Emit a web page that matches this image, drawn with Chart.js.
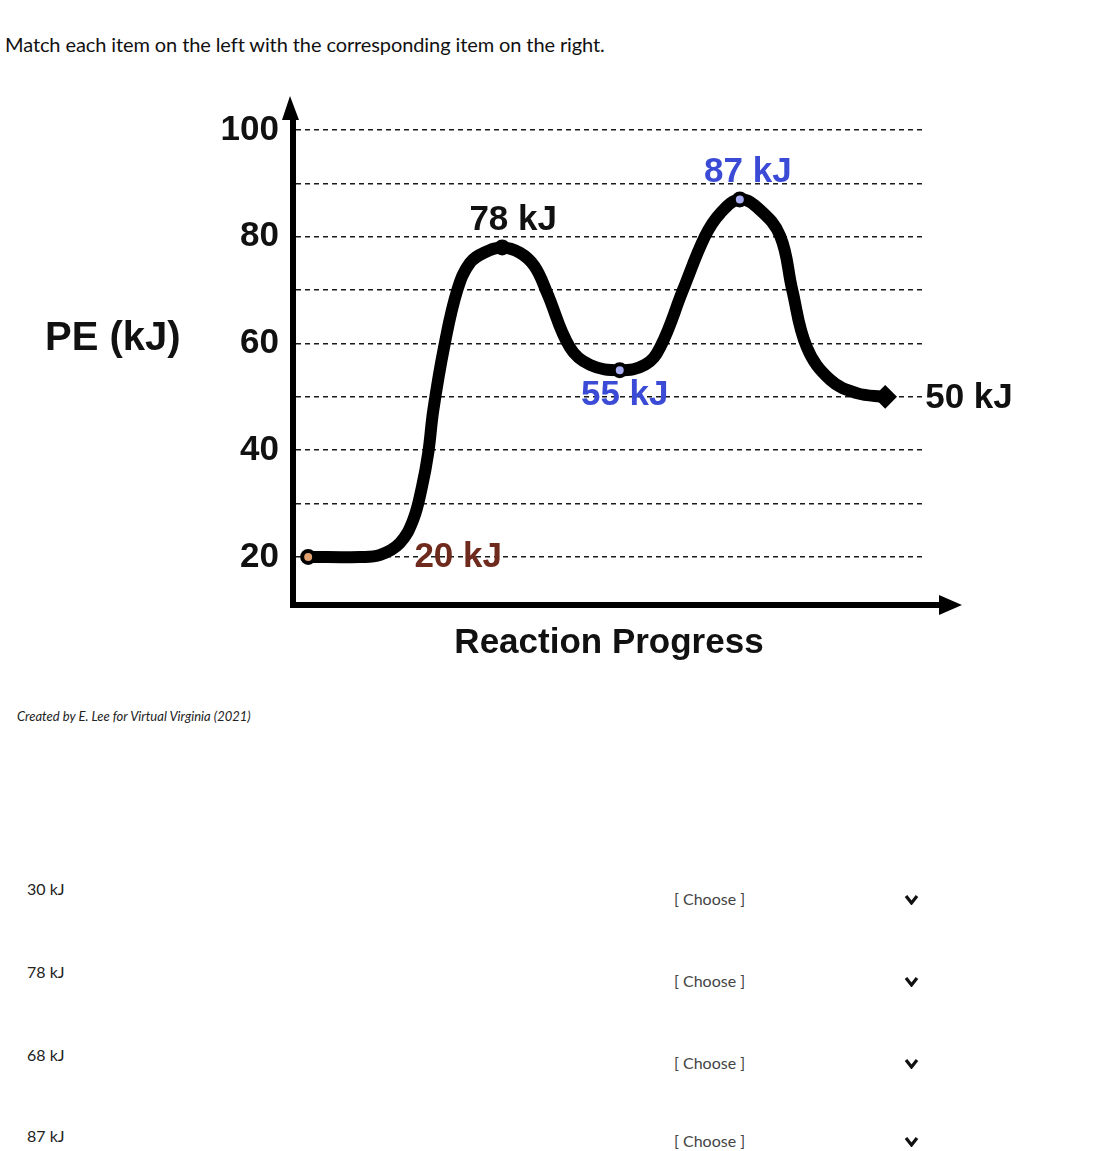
<!DOCTYPE html>
<html>
<head>
<meta charset="utf-8">
<script src="https://cdn.jsdelivr.net/npm/chart.js@4.4.1/dist/chart.umd.min.js"></script>
<style>
  html, body { margin: 0; padding: 0; background: #fff; }
  body { width: 1106px; height: 1151px; position: relative; overflow: hidden; font-family: Lato, "Open Sans", sans-serif; color: #111; }
  #chart { position: absolute; left: 0; top: 0; }
  .txt { position: absolute; white-space: nowrap; }
  #instr { left: 5px; top: 32px; font-size: 20px; letter-spacing: -0.1px; color: #111; }
  #credit { left: 17px; top: 708px; font-size: 13px; font-style: italic; color: #222; }
  .lbl { font-size: 16px; color: #222; }
  .choose { font-size: 16px; color: #444; }
  .chev { position: absolute; width: 15px; height: 11px; }
</style>
</head>
<body>
<div id="instr" class="txt">Match each item on the left with the corresponding item on the right.</div>
<canvas id="chart" width="1106" height="700"></canvas>
<div id="credit" class="txt">Created by E. Lee for Virtual Virginia (2021)</div>
<div id="quiz"></div>
<script>
// ---- data ----
const curveX = [2.4, 10.6, 13.8, 16.9, 19.0, 20.4, 21.4, 22.2, 23.9, 26.0, 28.0, 30.4, 33.1, 35.9, 38.2, 40.2, 43.8, 47.0, 51.7, 55.7, 58.1, 61.7, 65.2, 67.6, 70.7, 73.9, 77.1, 79.0, 81.3, 85.0, 89.2, 93.7];
const curveY = [20, 20, 20.4, 22.6, 26.9, 33.1, 39.5, 47.5, 59.3, 70, 75.1, 77.1, 78, 77.0, 74.5, 69.5, 59.3, 56.0, 55, 56.0, 59.3, 70, 80.1, 84.4, 87, 85.0, 80.1, 70, 59.3, 53.2, 50.7, 50];
const markerX = [2.4, 33.1, 51.7, 70.7, 93.7];
const markerY = [20, 78, 55, 87, 50];
const markerLabels = ["20 kJ", "78 kJ", "55 kJ", "87 kJ", "50 kJ"];
const yTickValues = [20, 30, 40, 50, 60, 70, 80, 90, 100];
const yTickLabels = ["20", "", "40", "", "60", "", "80", "", "100"];
const yAxisTitle = "PE (kJ)";
const xAxisTitle = "Reaction Progress";
const quizItems = ["30 kJ", "78 kJ", "68 kJ", "87 kJ"];
const chooseText = "[ Choose ]";

// ---- styles ----
const markerFill = ["#e0a070", "#000000", "#a9aef2", "#a9aef2", "#000000"];
const markerRadius = [6, 6, 6, 6, 9];
const markerStyle = ["circle", "circle", "circle", "circle", "rectRot"];
const labelColor = ["#6e2a1c", "#111111", "#3b4bd6", "#3b4bd6", "#111111"];
const labelDx = [150, 11, 5, 8, 40];
const labelDy = [0, -27, 25, -27, 1];
const labelAlign = ["center", "center", "center", "center", "left"];
const BOLD = "bold 35px 'Liberation Sans', Arial, sans-serif";

const decor = {
  id: 'decor',
  afterDraw(chart) {
    const ctx = chart.ctx;
    const xs = chart.scales.x, ys = chart.scales.y;
    const a = chart.chartArea;
    ctx.save();
    ctx.fillStyle = '#000';
    ctx.strokeStyle = '#000';
    ctx.lineWidth = 6;
    ctx.beginPath(); ctx.moveTo(a.left, a.bottom + 3); ctx.lineTo(a.left, a.top - 14); ctx.stroke();
    ctx.beginPath(); ctx.moveTo(a.left - 3, a.top - 34); ctx.lineTo(a.left - 11, a.top - 10); ctx.lineTo(a.left + 6, a.top - 10); ctx.closePath(); ctx.fill();
    ctx.beginPath(); ctx.moveTo(a.left, a.bottom); ctx.lineTo(a.right + 18, a.bottom); ctx.stroke();
    ctx.beginPath(); ctx.moveTo(a.right + 37, a.bottom); ctx.lineTo(a.right + 14, a.bottom - 10); ctx.lineTo(a.right + 14, a.bottom + 10); ctx.closePath(); ctx.fill();
    ctx.font = "bold 40px 'Liberation Sans', Arial, sans-serif";
    ctx.textAlign = 'left'; ctx.textBaseline = 'middle';
    ctx.fillStyle = '#111';
    ctx.fillText(yAxisTitle, 45, ys.getPixelForValue(60) - 5);
    ctx.font = BOLD;
    for (let i = 0; i < markerLabels.length; i++) {
      const px = xs.getPixelForValue(markerX[i]);
      const py = ys.getPixelForValue(markerY[i]);
      ctx.fillStyle = labelColor[i];
      ctx.textAlign = labelAlign[i];
      ctx.fillText(markerLabels[i], px + labelDx[i], py + labelDy[i]);
    }
    ctx.restore();
  }
};

new Chart(document.getElementById('chart'), {
  type: 'line',
  data: {
    datasets: [
      {
        data: curveX.map((x, i) => ({x: x, y: curveY[i]})),
        borderColor: '#000',
        borderWidth: 12,
        pointRadius: 0,
        tension: 0.4,
        borderCapStyle: 'round',
        borderJoinStyle: 'round',
        fill: false,
        clip: false,
        order: 2
      },
      {
        type: 'scatter',
        data: markerX.map((x, i) => ({x: x, y: markerY[i]})),
        pointRadius: markerRadius,
        pointStyle: markerStyle,
        pointBackgroundColor: markerFill,
        pointBorderColor: '#000',
        pointBorderWidth: 4,
        showLine: false,
        clip: false,
        order: 1
      }
    ]
  },
  options: {
    responsive: false,
    devicePixelRatio: 1,
    animation: false,
    layout: { padding: { left: 0, top: 130, right: 181, bottom: 36 } },
    plugins: { legend: { display: false }, tooltip: { enabled: false } },
    scales: {
      x: {
        type: 'linear', min: 0, max: 100,
        ticks: { display: false },
        grid: { display: false, drawTicks: false },
        border: { display: true, color: '#000', width: 6 },
        title: { display: true, text: xAxisTitle, color: '#111',
                 font: { family: "'Liberation Sans', Arial, sans-serif", size: 35, weight: 'bold' },
                 padding: { top: 17, bottom: 0 } }
      },
      y: {
        type: 'linear', min: 11, max: 100,
        afterFit(scale) { scale.width = 293; },
        afterBuildTicks(scale) { scale.ticks = yTickValues.map(v => ({ value: v })); },
        ticks: {
          padding: 14, color: '#111',
          font: { family: "'Liberation Sans', Arial, sans-serif", size: 35, weight: 'bold' },
          callback: (v) => { const i = yTickValues.indexOf(v); return i >= 0 ? yTickLabels[i] : ''; }
        },
        grid: { color: '#1a1a1a', lineWidth: 1.5, drawTicks: false },
        border: { display: true, color: '#000', width: 6, dash: [5, 4] }
      }
    }
  },
  plugins: [decor]
});

// ---- quiz rows ----
const quiz = document.getElementById('quiz');
const rowTops = [879, 962, 1045, 1126];
const chooseTops = [889, 971, 1053, 1131];
quizItems.forEach((t, i) => {
  const l = document.createElement('div');
  l.className = 'txt lbl'; l.style.left = '27px'; l.style.top = rowTops[i] + 'px'; l.textContent = t;
  quiz.appendChild(l);
  const c = document.createElement('div');
  c.className = 'txt choose'; c.style.left = '674px'; c.style.top = chooseTops[i] + 'px'; c.textContent = chooseText;
  quiz.appendChild(c);
  const s = document.createElementNS('http://www.w3.org/2000/svg', 'svg');
  s.setAttribute('class', 'chev'); s.setAttribute('viewBox', '0 0 15 11');
  s.style.left = '904px'; s.style.top = (chooseTops[i] + 5) + 'px';
  s.innerHTML = '<polyline points="2,2 7.5,9 13,2" fill="none" stroke="#111" stroke-width="3.2"/>';
  quiz.appendChild(s);
});
</script>
</body>
</html>
